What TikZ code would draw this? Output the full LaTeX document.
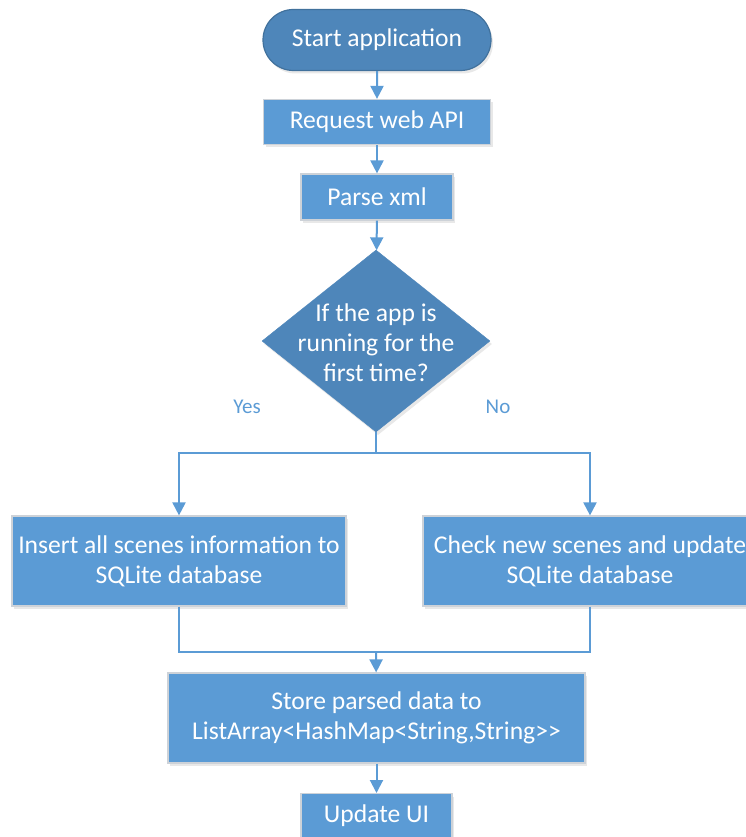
\documentclass[tikz,border=0pt]{standalone}
\usepackage{fontspec}
\setmainfont{Carlito}
\usetikzlibrary{arrows.meta,shapes.geometric,shapes.misc,shadows}
\definecolor{boxblue}{RGB}{91,155,213}
\definecolor{darkblue}{RGB}{78,134,186}
\definecolor{darkedge}{RGB}{65,113,156}
\definecolor{boxedge}{RGB}{205,210,216}
\begin{document}
\begin{tikzpicture}[x=1pt,y=-1pt,
  every node/.style={font=\fontsize{25.6}{30}\selectfont, text=white, align=center},
  procbox/.style={rectangle, fill=boxblue, draw=boxedge, line width=1.2pt, inner sep=0pt,
    drop shadow={opacity=0.18, shadow xshift=2pt, shadow yshift=-3pt}},
  termbox/.style={rounded rectangle, fill=darkblue, draw=darkedge, line width=1.2pt, inner sep=0pt,
    drop shadow={opacity=0.18, shadow xshift=2pt, shadow yshift=-3pt}},
  decbox/.style={diamond, fill=darkblue, draw=darkblue, inner sep=0pt,
    drop shadow={opacity=0.18, shadow xshift=2pt, shadow yshift=-3pt}},
  flow/.style={draw=boxblue, line width=2pt, -{Triangle[length=13pt,width=13pt]}},
  plain/.style={draw=boxblue, line width=2pt},
  branch/.style={font=\fontsize{21}{25}\selectfont, text=boxblue}
]
\useasboundingbox (0,0) rectangle (745,837);

\node[termbox, minimum width=228pt, minimum height=61pt] (start) at (377,40) {Start application};
\node[procbox, minimum width=227pt, minimum height=45pt] (req) at (377,122) {Request web API};
\node[procbox, minimum width=152pt, minimum height=46pt] (parse) at (377,197) {Parse xml};
\node[decbox, minimum width=228pt, minimum height=182pt] (dec) at (376,341) {};
\node (dectext) at ([yshift=-1.5pt]dec.center) {If the app is\\running for the\\first time?};
\node[branch] (yes) at (247,407) {Yes};
\node[branch] (no) at (498,407) {No};
\node[procbox, minimum width=334pt, minimum height=90pt] (ins) at (179,561)
  {Insert all scenes information to\\SQLite database};
\node[procbox, minimum width=334pt, minimum height=90pt] (chk) at (590,561)
  {Check new scenes and update\\SQLite database};
\node[procbox, minimum width=417pt, minimum height=90pt] (store) at (376.5,718)
  {Store parsed data to\\ListArray<HashMap<String,String>{}>};
\node[procbox, minimum width=151pt, minimum height=45pt, anchor=north] (ui) at (376.5,793) {Update UI};

\coordinate (split) at (376,453);
\coordinate (join) at (376,652);

\draw[flow] (start) -- (req);
\draw[flow] (req) -- (parse);
\draw[flow] (parse) -- (dec);
\draw[plain] (dec.south) -- (split);
\draw[flow] (split) -| (ins.north);
\draw[flow] (split) -| (chk.north);
\draw[plain] (ins.south) |- (join);
\draw[plain] (chk.south) |- (join);
\draw[flow] (join) -- (store);
\draw[flow] (store) -- (ui);
\end{tikzpicture}
\end{document}
